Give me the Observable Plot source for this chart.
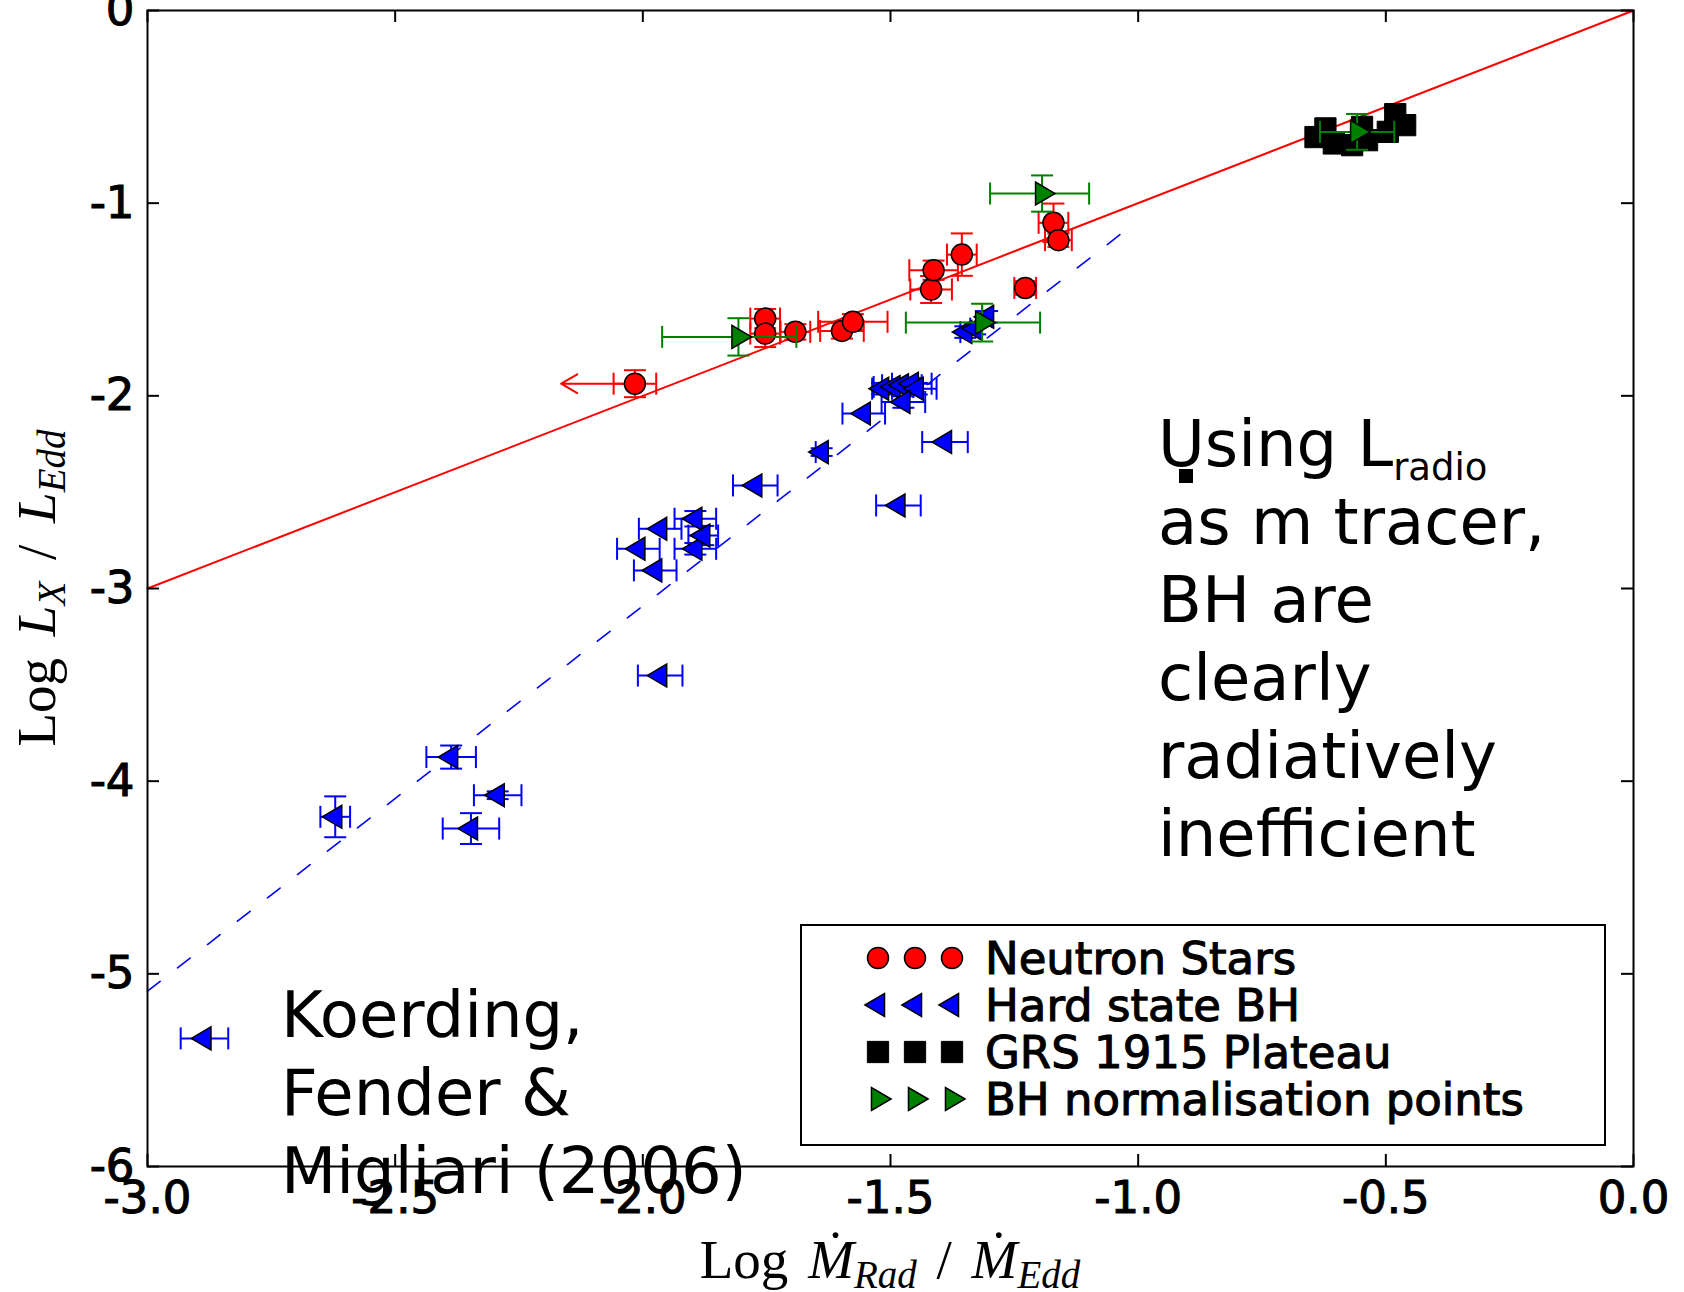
<!DOCTYPE html>
<html>
<head>
<meta charset="utf-8">
<script src="https://cdn.jsdelivr.net/npm/d3@7"></script>
<script src="https://cdn.jsdelivr.net/npm/@observablehq/plot@0.6"></script>
<style>
  html, body { margin: 0; padding: 0; background: #fff; }
  #chart { position: relative; width: 1684px; height: 1292px; overflow: hidden; background: #fff; }
  g[aria-label="x-axis tick label"] text,
  g[aria-label="y-axis tick label"] text,
  .legend-text { stroke: #000; stroke-width: 1.1px; }
</style>
</head>
<body>
<div id="chart"></div>
<script>
// ---------------- data ----------------
const xTicks = [-3.0, -2.5, -2.0, -1.5, -1.0, -0.5, 0.0];
const yTicks = [0, -1, -2, -3, -4, -5, -6];

// Neutron stars (red circles)
const nsX    = [-2.016, -1.753, -1.753, -1.692, -1.598, -1.576, -1.418, -1.413, -1.356, -1.228, -1.171, -1.161];
const nsY    = [-1.937, -1.599, -1.677, -1.668, -1.663, -1.616, -1.448, -1.348, -1.267, -1.440, -1.102, -1.192];
const nsXerr = [0.043, 0.030, 0.030, 0.030, 0.044, 0.070, 0.042, 0.049, 0.030, 0.022, 0.030, 0.027];
const nsYerr = [0.070, 0.050, 0.070, 0.040, 0.040, 0.040, 0.070, 0.050, 0.110, 0.035, 0.100, 0.035];
const nsLimitIndex = [0];        // point drawn as an upper limit in x
const nsLimitEnd   = [-2.165];   // where the limit arrow ends

// Hard state BH (blue left triangles)
const hsX    = [-2.885, -2.621, -2.387, -2.293, -2.347, -1.965, -1.975, -2.009, -1.894, -1.878, -1.965, -1.894,
                -1.773, -1.639, -1.554, -1.390, -1.484, -1.517, -1.494, -1.477, -1.457, -1.447, -1.474,
                -1.349, -1.329, -1.305];
const hsY    = [-5.335, -4.185, -3.875, -4.073, -4.246, -3.452, -2.906, -2.794, -2.794, -2.725, -2.690, -2.638,
                -2.465, -2.292, -2.092, -2.240, -2.569, -1.963, -1.954, -1.945, -1.937, -1.963, -2.032,
                -1.669, -1.651, -1.590];
const hsXerr = [0.048, 0.030, 0.050, 0.048, 0.057, 0.045, 0.043, 0.043, 0.042, 0.030, 0.043, 0.042,
                0.045, 0.012, 0.043, 0.046, 0.045, 0.020, 0.040, 0.040, 0.040, 0.040, 0.044,
                0.010, 0.010, 0.010];
const hsYerr = [0.000, 0.106, 0.060, 0.020, 0.080, 0.000, 0.000, 0.000, 0.030, 0.050, 0.000, 0.040,
                0.000, 0.020, 0.000, 0.000, 0.000, 0.030, 0.030, 0.030, 0.030, 0.030, 0.030,
                0.030, 0.030, 0.030];

// GRS 1915 plateau (black squares)
const grsX = [-0.642, -0.622, -0.605, -0.568, -0.548, -0.538, -0.481, -0.461, -0.496];
const grsY = [-0.657, -0.612, -0.690, -0.699, -0.604, -0.673, -0.538, -0.595, -0.630];

// BH normalisation points (green right triangles)
const bnX    = [-1.807, -1.194, -1.315, -0.558];
const bnY    = [-1.694, -0.950, -1.620, -0.630];
const bnXlo  = [0.154, 0.105, 0.154, 0.075];
const bnXhi  = [0.117, 0.095, 0.117, 0.075];
const bnYerr = [0.097, 0.094, 0.098, 0.093];

// relations
const eqLineX = [-3.0, 0.0];
const eqLineY = [-3.0, 0.0];
const bhFitX  = [-3.0, -1.02];
const bhFitY  = [-5.09, -1.13];

// legend labels
const legendLabels = ["Neutron Stars", "Hard state BH", "GRS 1915 Plateau", "BH normalisation points"];

// ---------------- build rows ----------------
const ns = nsX.map((x, i) => ({x, y: nsY[i], xlo: x - nsXerr[i], xhi: x + nsXerr[i], ylo: nsY[i] - nsYerr[i], yhi: nsY[i] + nsYerr[i]}));
const hs = hsX.map((x, i) => ({x, y: hsY[i], xlo: x - hsXerr[i], xhi: x + hsXerr[i], ylo: hsY[i] - hsYerr[i], yhi: hsY[i] + hsYerr[i]}));
const grs = grsX.map((x, i) => ({x, y: grsY[i]}));
const bn = bnX.map((x, i) => ({x, y: bnY[i], xlo: x - bnXlo[i], xhi: x + bnXhi[i], ylo: bnY[i] - bnYerr[i], yhi: bnY[i] + bnYerr[i]}));
const nsLimits = nsLimitIndex.map((k, i) => ({x1: ns[k].x, x2: nsLimitEnd[i], y: ns[k].y}));
const eqLine = eqLineX.map((x, i) => ({x, y: eqLineY[i]}));
const bhFit = bhFitX.map((x, i) => ({x, y: bhFitY[i]}));

// ---------------- symbols ----------------
const rad = s => Math.sqrt(s / Math.PI);
const vCap = {draw(c, s) { const r = rad(s); c.moveTo(0, -r); c.lineTo(0, r); }};
const hCap = {draw(c, s) { const r = rad(s); c.moveTo(-r, 0); c.lineTo(r, 0); }};
const triLeft = {draw(c, s) { const r = rad(s), L = 2.3 * r, h = 1.35 * r;
  c.moveTo(-2 * L / 3, 0); c.lineTo(L / 3, -h); c.lineTo(L / 3, h); c.closePath(); }};
const triRight = {draw(c, s) { const r = rad(s), L = 2.3 * r, h = 1.35 * r;
  c.moveTo(2 * L / 3, 0); c.lineTo(-L / 3, -h); c.lineTo(-L / 3, h); c.closePath(); }};

const W = 1684, H = 1292;
const mL = 147, mR = 51, mT = 10, mB = 126;
const pw = W - mL - mR, ph = H - mT - mB;
const TICK = 12, CAP = 11;
const R_CIRCLE = 10.5, R_TRI = 8.5, R_SQUARE = 12;

function errorMarks(rows, color) {
  const yr = rows.filter(d => d.yhi !== d.ylo);
  return [
    Plot.ruleY(rows, {y: "y", x1: "xlo", x2: "xhi", stroke: color, strokeWidth: 2}),
    Plot.dot(rows, {x: "xlo", y: "y", symbol: vCap, r: CAP, fill: "none", stroke: color, strokeWidth: 2}),
    Plot.dot(rows, {x: "xhi", y: "y", symbol: vCap, r: CAP, fill: "none", stroke: color, strokeWidth: 2}),
    Plot.ruleX(yr, {x: "x", y1: "ylo", y2: "yhi", stroke: color, strokeWidth: 2}),
    Plot.dot(yr, {x: "x", y: "ylo", symbol: hCap, r: CAP, fill: "none", stroke: color, strokeWidth: 2}),
    Plot.dot(yr, {x: "x", y: "yhi", symbol: hCap, r: CAP, fill: "none", stroke: color, strokeWidth: 2})
  ];
}

const svg = Plot.plot({
  width: W, height: H,
  marginLeft: mL, marginRight: mR, marginTop: mT, marginBottom: mB,
  style: {fontFamily: "'DejaVu Sans', sans-serif", fontSize: "45px", background: "white", color: "black"},
  x: {domain: [-3, 0]},
  y: {domain: [-6, 0]},
  marks: [
    // relations
    Plot.line(eqLine, {x: "x", y: "y", stroke: "#ff0000", strokeWidth: 2}),
    Plot.line(bhFit, {x: "x", y: "y", stroke: "#0000ff", strokeWidth: 1.6, strokeDasharray: "16,22"}),
    // neutron stars
    ...errorMarks(ns, "#ff0000"),
    Plot.arrow(nsLimits, {x1: "x1", x2: "x2", y1: "y", y2: "y", stroke: "#ff0000", strokeWidth: 2, headLength: 14, bend: 0}),
    Plot.dot(ns, {x: "x", y: "y", symbol: "circle", r: R_CIRCLE, fill: "#ff0000", stroke: "black", strokeWidth: 1.5}),
    // hard state BH
    ...errorMarks(hs, "#0000ff"),
    Plot.dot(hs, {x: "x", y: "y", symbol: triLeft, r: R_TRI, fill: "#0000ff", stroke: "black", strokeWidth: 1.5}),
    // GRS 1915
    Plot.dot(grs, {x: "x", y: "y", symbol: "square", r: R_SQUARE, fill: "black", stroke: "black", strokeWidth: 1}),
    // BH normalisation
    ...errorMarks(bn, "#008000"),
    Plot.dot(bn, {x: "x", y: "y", symbol: triRight, r: R_TRI, fill: "#008000", stroke: "black", strokeWidth: 1.5}),
    // frame and inward ticks on all four sides
    Plot.frame({stroke: "black", strokeWidth: 2}),
    Plot.ruleX(xTicks, {x: d => d, insetTop: ph - TICK, stroke: "black", strokeWidth: 2}),
    Plot.ruleX(xTicks, {x: d => d, insetBottom: ph - TICK, stroke: "black", strokeWidth: 2}),
    Plot.ruleY(yTicks, {y: d => d, insetRight: pw - TICK, stroke: "black", strokeWidth: 2}),
    Plot.ruleY(yTicks, {y: d => d, insetLeft: pw - TICK, stroke: "black", strokeWidth: 2}),
    Plot.axisX(xTicks, {anchor: "bottom", tickSize: 0, tickPadding: 15, tickFormat: d => d.toFixed(1), label: null, fontSize: 45}),
    Plot.axisY(yTicks, {anchor: "left", tickSize: 0, tickPadding: 13, tickFormat: d => String(d), label: null, fontSize: 45})
  ]
});

document.getElementById("chart").appendChild(svg);

// ---------------- overlays: axis labels, legend, annotations ----------------
const g = d3.select(svg);
const serif = "'Liberation Serif', 'DejaVu Serif', serif";
const sans = "'DejaVu Sans', sans-serif";

function mathLabel(t, main1, sub1, main2, sub2, upright) {
  t.append("tspan").text("Log ");
  t.append("tspan").attr("font-style", "italic").text(main1);
  t.append("tspan").attr("font-style", "italic").attr("font-size", "39px").attr("dy", 10).text(sub1);
  t.append("tspan").attr("dy", -10).text(" / ");
  t.append("tspan").attr("font-style", "italic").text(main2);
  t.append("tspan").attr("font-style", "italic").attr("font-size", "39px").attr("dy", 10).text(sub2);
}
// x label
mathLabel(
  g.append("text").attr("x", mL + pw / 2).attr("y", 1278).attr("text-anchor", "middle")
    .style("font-family", serif).style("font-size", "55px").style("word-spacing", "6px").attr("fill", "black"),
  "Ṁ", "Rad", "Ṁ", "Edd");
// y label
mathLabel(
  g.append("text").attr("transform", `translate(55,${mT + ph / 2}) rotate(-90)`).attr("text-anchor", "middle")
    .style("font-family", serif).style("font-size", "55px").style("word-spacing", "8px").attr("fill", "black"),
  "L", "X", "L", "Edd");

// legend
{
  const lg = g.append("g");
  lg.append("rect").attr("x", 801).attr("y", 925).attr("width", 804).attr("height", 220)
    .attr("fill", "white").attr("stroke", "black").attr("stroke-width", 2);
  const rowY = [958, 1005, 1052, 1099];
  const mx = [878, 915, 952];
  const specs = [
    {type: d3.symbolCircle, r: R_CIRCLE, fill: "#ff0000", sw: 1.5},
    {type: triLeft, r: R_TRI, fill: "#0000ff", sw: 1.5},
    {type: d3.symbolSquare, r: R_SQUARE, fill: "black", sw: 1},
    {type: triRight, r: R_TRI, fill: "#008000", sw: 1.5}
  ];
  specs.forEach((s, i) => {
    mx.forEach(x => {
      lg.append("path").attr("d", d3.symbol(s.type, Math.PI * s.r * s.r)()).attr("transform", `translate(${x},${rowY[i]})`)
        .attr("fill", s.fill).attr("stroke", "black").attr("stroke-width", s.sw);
    });
    lg.append("text").attr("class", "legend-text").attr("x", 985).attr("y", rowY[i] + 16).attr("text-anchor", "start")
      .style("font-family", sans).style("font-size", "45px").attr("fill", "black").text(legendLabels[i]);
  });
}

// annotation: Using L_radio ...
{
  const x0 = 1158, fs = 64, lh = 78, y0 = 466;
  const lines = ["as m tracer,", "BH are", "clearly", "radiatively", "inefficient"];
  const t = g.append("text").attr("x", x0).attr("y", y0).attr("text-anchor", "start")
    .style("font-family", sans).style("font-size", fs + "px").attr("fill", "black");
  t.append("tspan").text("Using L");
  t.append("tspan").attr("font-size", "37px").attr("dy", 14).text("radio");
  lines.forEach((s, i) => {
    g.append("text").attr("x", x0).attr("y", y0 + lh * (i + 1)).attr("text-anchor", "start")
      .style("font-family", sans).style("font-size", fs + "px").attr("fill", "black").text(s);
  });
  // misplaced "dot" of the m-dot glyph
  g.append("rect").attr("x", 1179).attr("y", 469).attr("width", 14).attr("height", 14).attr("fill", "black");
}
// annotation: reference
{
  const lines = ["Koerding,", "Fender &", "Migliari (2006)"];
  lines.forEach((s, i) => {
    g.append("text").attr("x", 281).attr("y", 1037 + 78 * i).attr("text-anchor", "start")
      .style("font-family", sans).style("font-size", "64px").attr("fill", "black").text(s);
  });
}
</script>
</body>
</html>
